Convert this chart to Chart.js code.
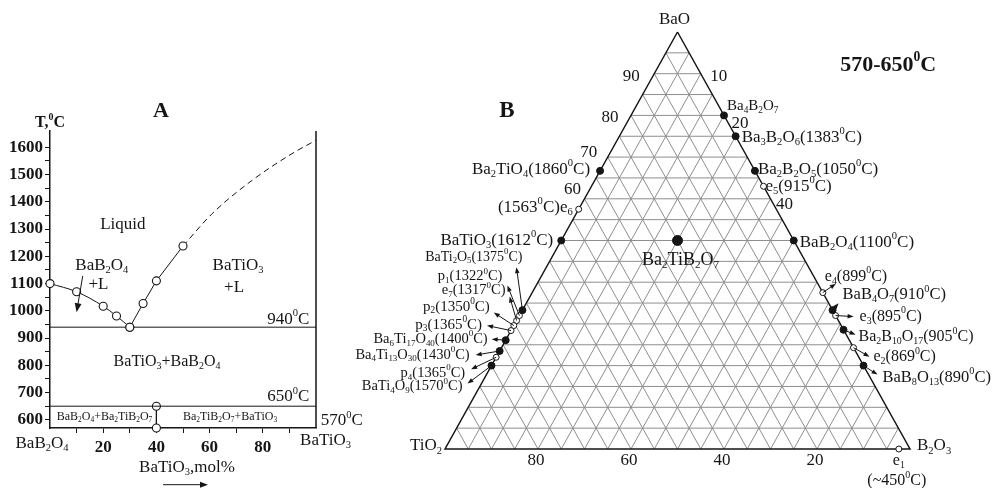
<!DOCTYPE html>
<html>
<head>
<meta charset="utf-8">
<script src="https://cdn.jsdelivr.net/npm/chart.js@4.4.1/dist/chart.umd.min.js"></script>
<style>
html, body { margin: 0; padding: 0; background: #fff; }
#wrap { position: relative; width: 993px; height: 488px; overflow: hidden; }
#chartA { position: absolute; left: 0; top: 0; }
#chartB { position: absolute; left: 330px; top: 0; }
</style>
</head>
<body>
<div id="wrap">
  <canvas id="chartA" width="380" height="488"></canvas>
  <canvas id="chartB" width="663" height="488"></canvas>
</div>
<script>
// ---- panel A : BaB2O4 - BaTiO3 section ----
var liqLeftX = [0, 10, 20, 25, 30];
var liqLeftT = [1100, 1070, 1017, 981, 940];
var liqRightX = [30, 35, 40, 50];
var liqRightT = [940, 1027, 1110, 1238];
var extrapX = [50, 61, 76, 91, 100];
var extrapT = [1238, 1357, 1479, 1577, 1626];
var eutecticT = 940;
var subsolidusT = 650;
var lowT = 570;
var topT = 1660;
var compoundX = 40;
var xTicksA = [10, 20, 30, 40, 50, 60, 70, 80, 90];
var xLabelsA = [20, 40, 60, 80];
var yTicksA = [600, 650, 700, 750, 800, 850, 900, 950, 1000, 1050, 1100, 1150, 1200, 1250, 1300, 1350, 1400, 1450, 1500, 1550, 1600];

// ---- panel B : BaO - B2O3 - TiO2 (mol %) ----
var compName = ['Ba4B2O7', 'Ba3B2O6', 'Ba2B2O5', 'BaB2O4', 'BaB4O7', 'Ba2B10O17', 'BaB8O13', 'Ba2TiO4', 'BaTiO3', 'BaTi2O5', 'Ba6Ti17O40', 'Ba4Ti13O30', 'BaTi4O9'];
var compBaO = [80, 75, 66.7, 50, 33.3, 28.6, 20, 66.7, 50, 33.3, 26.1, 23.5, 20];
var compB2O3 = [20, 25, 33.3, 50, 66.7, 71.4, 80, 0, 0, 0, 0, 0, 0];
var invName = ['e1', 'e2', 'e3', 'e4', 'e5', 'e6', 'e7', 'p1', 'p2', 'p3', 'p4'];
var invBaO = [0, 24.3, 32, 37.5, 63, 57.5, 30.8, 32, 29.6, 28.4, 22];
var invB2O3 = [97.6, 75.7, 68, 62.5, 37, 0, 0, 0, 0, 0, 0];
var ternName = ['Ba2TiB2O7'];
var ternBaO = [50];
var ternB2O3 = [25];
var gridSteps = [5, 10, 15, 20, 25, 30, 35, 40, 45, 50, 55, 60, 65, 70, 75, 80, 85, 90, 95];
var leftNums = [90, 80, 70, 60];     // BaO
var rightNums = [10, 20, 40];        // B2O3
var bottomNums = [80, 60, 40, 20];   // TiO2

var INK = '#151515';
var SERIF = "'Liberation Serif', 'Times New Roman', serif";

function richParts(s) {
  var out = [], re = /([_^])\{([^}]*)\}/g, last = 0, m;
  while ((m = re.exec(s))) {
    if (m.index > last) out.push({ t: s.slice(last, m.index), k: '' });
    out.push({ t: m[2], k: m[1] });
    last = re.lastIndex;
  }
  if (last < s.length) out.push({ t: s.slice(last), k: '' });
  return out;
}

function drawRich(ctx, s, x, y, size, align, bold) {
  var parts = richParts(s), w = bold ? 'bold ' : '', total = 0;
  parts.forEach(function (p) {
    p.fs = p.k ? size * 0.62 : size;
    ctx.font = w + p.fs + 'px ' + SERIF;
    p.w = ctx.measureText(p.t).width;
    total += p.w;
  });
  var cx = align === 'right' ? x - total : align === 'center' ? x - total / 2 : x;
  ctx.textBaseline = 'middle';
  ctx.textAlign = 'left';
  ctx.fillStyle = INK;
  parts.forEach(function (p) {
    ctx.font = w + p.fs + 'px ' + SERIF;
    var oy = p.k === '_' ? size * 0.28 : p.k === '^' ? -size * 0.36 : 0;
    ctx.fillText(p.t, cx, y + oy);
    cx += p.w;
  });
}

function drawArrow(ctx, x1, y1, x2, y2, head) {
  var a = Math.atan2(y2 - y1, x2 - x1), c = Math.cos(a), s = Math.sin(a);
  ctx.strokeStyle = INK;
  ctx.fillStyle = INK;
  ctx.lineWidth = 1;
  ctx.beginPath();
  ctx.moveTo(x1, y1);
  ctx.lineTo(x2 - c * head * 0.7, y2 - s * head * 0.7);
  ctx.stroke();
  ctx.beginPath();
  ctx.moveTo(x2, y2);
  ctx.lineTo(x2 - head * c + head * 0.38 * s, y2 - head * s - head * 0.38 * c);
  ctx.lineTo(x2 - head * c - head * 0.38 * s, y2 - head * s + head * 0.38 * c);
  ctx.closePath();
  ctx.fill();
}

function xy(xs, ys) {
  return xs.map(function (v, i) { return { x: v, y: ys[i] }; });
}

// text of panel A, placed in (mol%, T) coordinates
var textA = [
  ['A', 41.7, 1733, 'center', 22, true],
  ['T,^{0}C', 0, 1690, 'center', 16, true],
  ['Liquid', 27.4, 1318, 'center', 17],
  ['BaB_{2}O_{4}', 19.5, 1168, 'center', 17],
  ['+L', 18.2, 1095, 'center', 17],
  ['BaTiO_{3}', 70.7, 1168, 'center', 17],
  ['+L', 69.2, 1087, 'center', 17],
  ['940^{0}C', 97.5, 968, 'right', 17],
  ['BaTiO_{3}+BaB_{2}O_{4}', 44, 812, 'center', 16],
  ['650^{0}C', 97.5, 684, 'right', 17],
  ['BaB_{2}O_{4}+Ba_{2}TiB_{2}O_{7}', 20.5, 611, 'center', 12],
  ['Ba_{2}TiB_{2}O_{7}+BaTiO_{3}', 67.7, 611, 'center', 12],
  ['570^{0}C', 101.8, 596, 'left', 17],
  ['BaB_{2}O_{4}', -3, 514, 'center', 17],
  ['BaTiO_{3}', 103.6, 523, 'center', 17],
  ['BaTiO_{3},mol%', 51.5, 424, 'center', 17]
];
var arrowsA = [[12.3, 1128, 10, 995, 9], [42.5, 362, 59.4, 362, 8]];

var textPluginA = {
  id: 'textA',
  afterDraw: function (chart) {
    var ctx = chart.ctx, xs = chart.scales.x, ys = chart.scales.y;
    ctx.save();
    textA.forEach(function (t) {
      drawRich(ctx, t[0], xs.getPixelForValue(t[1]), ys.getPixelForValue(t[2]), t[4], t[3], t[5]);
    });
    arrowsA.forEach(function (a) {
      drawArrow(ctx, xs.getPixelForValue(a[0]), ys.getPixelForValue(a[1]), xs.getPixelForValue(a[2]), ys.getPixelForValue(a[3]), a[4]);
    });
    ctx.restore();
  }
};

var openPt = { pointRadius: 4, pointBackgroundColor: '#fff', pointBorderColor: INK, pointBorderWidth: 1.1 };
function lineDs(data, extra) {
  var d = { data: data, showLine: true, borderColor: INK, borderWidth: 1, pointRadius: 0, clip: false };
  for (var k in extra) d[k] = extra[k];
  return d;
}

new Chart(document.getElementById('chartA').getContext('2d'), {
  type: 'scatter',
  data: {
    datasets: [
      lineDs(xy(liqLeftX, liqLeftT), Object.assign({ cubicInterpolationMode: 'monotone' }, openPt)),
      lineDs(xy(liqRightX, liqRightT), openPt),
      lineDs(xy(extrapX, extrapT), { borderDash: [6, 4], cubicInterpolationMode: 'monotone' }),
      lineDs([{ x: 0, y: eutecticT }, { x: 100, y: eutecticT }]),
      lineDs([{ x: 0, y: subsolidusT }, { x: 100, y: subsolidusT }]),
      lineDs([{ x: compoundX, y: subsolidusT }, { x: compoundX, y: lowT }], openPt),
      lineDs([{ x: 100, y: lowT }, { x: 100, y: topT }], { borderWidth: 1.5 })
    ]
  },
  options: {
    responsive: false,
    animation: false,
    devicePixelRatio: 1,
    layout: { padding: { top: 131, right: 64, left: 0, bottom: 0 } },
    plugins: { legend: { display: false }, tooltip: { enabled: false } },
    scales: {
      x: {
        type: 'linear', min: 0, max: 100,
        afterBuildTicks: function (s) { s.ticks = xTicksA.map(function (v) { return { value: v }; }); },
        afterFit: function (s) { s.height = 60; },
        ticks: {
          autoSkip: false, maxRotation: 0, padding: 4, color: INK,
          font: { family: SERIF, size: 17, weight: 'bold' },
          callback: function (v) { return xLabelsA.indexOf(v) >= 0 ? String(v) : ''; }
        },
        grid: { drawOnChartArea: false, drawTicks: true, tickLength: 5, color: INK, lineWidth: 1 },
        border: { color: INK, width: 1.5 }
      },
      y: {
        type: 'linear', min: lowT, max: topT,
        afterBuildTicks: function (s) { s.ticks = yTicksA.map(function (v) { return { value: v }; }); },
        afterFit: function (s) { s.width = 50; },
        ticks: {
          autoSkip: false, padding: 2, color: INK,
          font: { family: SERIF, size: 17, weight: 'bold' },
          callback: function (v) { return v % 100 === 0 ? String(v) : ''; }
        },
        grid: { drawOnChartArea: false, drawTicks: true, tickLength: 5, color: INK, lineWidth: 1 },
        border: { color: INK, width: 1.5 }
      }
    }
  },
  plugins: [textPluginA]
});

// ---- panel B ----
function tern(BaO, B2O3) { return { x: B2O3 + BaO / 2, y: BaO }; }
function ternList(baos, b2o3s) { return baos.map(function (v, i) { return tern(v, b2o3s[i]); }); }

function gridFamily(kind) {
  var pts = [];
  gridSteps.forEach(function (k) {
    var a, b;
    if (kind === 'BaO') { a = tern(k, 0); b = tern(k, 100 - k); }
    else if (kind === 'B2O3') { a = tern(0, k); b = tern(100 - k, k); }
    else { a = tern(0, 100 - k); b = tern(100 - k, 0); }
    pts.push(a, b, { x: null, y: null });
  });
  return pts;
}

// label: name, text, dx, dy, align, size, arrow dx, arrow dy
var labelsB = [
  ['Ba2TiO4', 'Ba_{2}TiO_{4}(1860^{0}C)', -10, -1, 'right', 17],
  ['e6', '(1563^{0}C)e_{6}', -6, -2, 'right', 17],
  ['BaTiO3', 'BaTiO_{3}(1612^{0}C)', -8, 0, 'right', 17],
  ['BaTi2O5', 'BaTi_{2}O_{5}(1375^{0}C)', 0, -53, 'right', 14, -6, -43],
  ['p1', 'p_{1}(1322^{0}C)', -17, -39, 'right', 14.5, -12, -30],
  ['e7', 'e_{7}(1317^{0}C)', -11, -30, 'right', 14.5, -7, -24],
  ['p2', 'p_{2}(1350^{0}C)', -24, -19, 'right', 15, -20, -13],
  ['p3', 'p_{3}(1365^{0}C)', -29, -6, 'right', 15, -24, -5],
  ['Ba6Ti17O40', 'Ba_{6}Ti_{17}O_{40}(1400^{0}C)', -18, -1, 'right', 14.5, -14, -1],
  ['Ba4Ti13O30', 'Ba_{4}Ti_{13}O_{30}(1430^{0}C)', -30, 4, 'right', 14.5, -24, 4],
  ['p4', 'p_{4}(1365^{0}C)', -31, 16, 'right', 14.5, -25, 12],
  ['BaTi4O9', 'BaTi_{4}O_{9}(1570^{0}C)', -29, 21, 'right', 14.5, -24, 18],
  ['Ba4B2O7', 'Ba_{4}B_{2}O_{7}', 3, -9, 'left', 15],
  ['Ba3B2O6', 'Ba_{3}B_{2}O_{6}(1383^{0}C)', 6, 1, 'left', 17],
  ['Ba2B2O5', 'Ba_{2}B_{2}O_{5}(1050^{0}C)', 3, -1, 'left', 17],
  ['e5', 'e_{5}(915^{0}C)', 2, 0, 'left', 17],
  ['BaB2O4', 'BaB_{2}O_{4}(1100^{0}C)', 6, 2, 'left', 17],
  ['e4', 'e_{4}(899^{0}C)', 2, -16, 'left', 16, 13, -9],
  ['BaB4O7', 'BaB_{4}O_{7}(910^{0}C)', 10, -15, 'left', 16.5, 6, -7],
  ['e3', 'e_{3}(895^{0}C)', 24, 1, 'left', 16, 18, 1],
  ['Ba2B10O17', 'Ba_{2}B_{10}O_{17}(905^{0}C)', 15, 7, 'left', 16, 12, 5],
  ['e2', 'e_{2}(869^{0}C)', 20, 9, 'left', 16, 16, 9],
  ['BaB8O13', 'BaB_{8}O_{13}(890^{0}C)', 19, 12, 'left', 16.5, 14, 9],
  ['e1', 'e_{1}', 0, 12, 'center', 16],
  ['e1', '(~450^{0}C)', -2, 32, 'center', 16],
  ['Ba2TiB2O7', 'Ba_{2}TiB_{2}O_{7}', 3, 20, 'center', 18]
];
var leftNumOff = [[-23, 3], [-21, 2], [-19, -5], [-12, -9]];
var rightNumOff = [[18, 3], [16, 8], [14, 6]];

function anchorOf(name) {
  var i = compName.indexOf(name);
  if (i >= 0) return [compBaO[i], compB2O3[i]];
  i = invName.indexOf(name);
  if (i >= 0) return [invBaO[i], invB2O3[i]];
  i = ternName.indexOf(name);
  return [ternBaO[i], ternB2O3[i]];
}

var textPluginB = {
  id: 'textB',
  afterDraw: function (chart) {
    var ctx = chart.ctx, xs = chart.scales.x, ys = chart.scales.y;
    function P(BaO, B2O3) { var t = tern(BaO, B2O3); return [xs.getPixelForValue(t.x), ys.getPixelForValue(t.y)]; }
    ctx.save();
    labelsB.forEach(function (l) {
      var a = anchorOf(l[0]), p = P(a[0], a[1]);
      if (l.length > 6) drawArrow(ctx, p[0], p[1], p[0] + l[6], p[1] + l[7], 6);
      drawRich(ctx, l[1], p[0] + l[2], p[1] + l[3], l[5], l[4], false);
    });
    leftNums.forEach(function (k, i) {
      var p = P(k, 0);
      drawRich(ctx, String(k), p[0] + leftNumOff[i][0], p[1] + leftNumOff[i][1], 17, 'center', false);
    });
    rightNums.forEach(function (k, i) {
      var p = P(100 - k, k);
      drawRich(ctx, String(k), p[0] + rightNumOff[i][0], p[1] + rightNumOff[i][1], 17, 'center', false);
    });
    bottomNums.forEach(function (k) {
      var p = P(0, 100 - k);
      drawRich(ctx, String(k), p[0] - 2, p[1] + 12, 17, 'center', false);
    });
    var apex = P(100, 0), ti = P(0, 0), bo = P(0, 100);
    drawRich(ctx, 'BaO', apex[0] - 3, apex[1] - 12, 17, 'center', false);
    drawRich(ctx, 'TiO_{2}', ti[0] - 3, ti[1] - 3, 17, 'right', false);
    drawRich(ctx, 'B_{2}O_{3}', bo[0] + 7, bo[1] - 3, 17, 'left', false);
    drawRich(ctx, 'B', xs.getPixelForValue(13.3), ys.getPixelForValue(81), 23, 'center', true);
    drawRich(ctx, '570-650^{0}C', xs.getPixelForValue(95.3), ys.getPixelForValue(92.1), 22, 'center', true);
    ctx.restore();
  }
};

function ptDs(data, radius, fill, order) {
  return { data: data, showLine: false, pointRadius: radius, pointBackgroundColor: fill, pointBorderColor: INK, pointBorderWidth: 1, clip: false, order: order };
}
function gridDs(kind) {
  return { data: gridFamily(kind), showLine: true, spanGaps: false, borderColor: '#8e8e8e', borderWidth: 1, pointRadius: 0, clip: false, order: 5 };
}

new Chart(document.getElementById('chartB').getContext('2d'), {
  type: 'scatter',
  data: {
    datasets: [
      gridDs('BaO'),
      gridDs('B2O3'),
      gridDs('TiO2'),
      { data: [tern(100, 0), tern(0, 0), tern(0, 100), tern(100, 0)], showLine: true, borderColor: INK, borderWidth: 1.5, pointRadius: 0, clip: false, order: 4 },
      ptDs(ternList(compBaO, compB2O3), 3.5, INK, 1),
      ptDs(ternList(invBaO, invB2O3), 3, '#fff', 1),
      ptDs(ternList(ternBaO, ternB2O3), 5, INK, 1)
    ]
  },
  options: {
    responsive: false,
    animation: false,
    devicePixelRatio: 1,
    layout: { padding: { left: 115, right: 83, top: 32, bottom: 39 } },
    plugins: { legend: { display: false }, tooltip: { enabled: false } },
    scales: {
      x: { type: 'linear', min: 0, max: 100, display: false },
      y: { type: 'linear', min: 0, max: 100, display: false }
    }
  },
  plugins: [textPluginB]
});
</script>
</body>
</html>
